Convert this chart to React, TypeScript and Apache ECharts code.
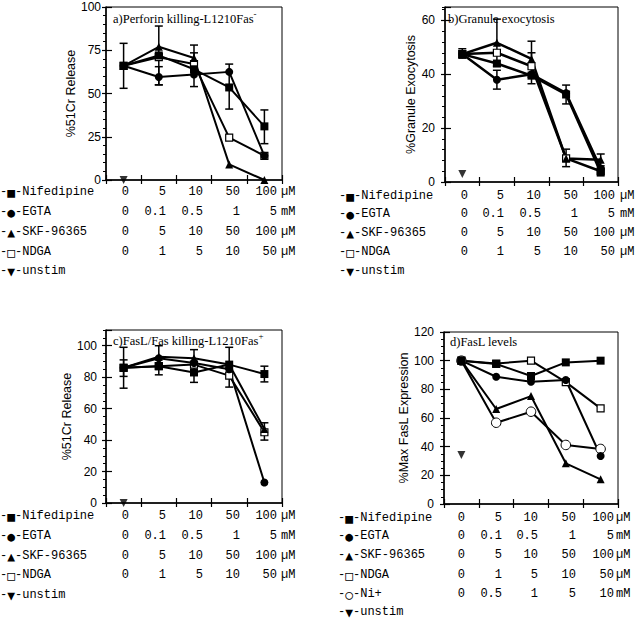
import React, { useEffect, useRef } from "react";
import * as echarts from "echarts";

// ---------- data ----------
const categories = ["0", "5", "10", "50", "100"];

// a) Perforin killing
const aNifedipine = [66, 72, 64, 53.5, 31];
const aEGTA = [66, 59.5, 61, 62.5, 14];
const aSKF = [66, 77, 70.5, 9, 0];
const aNDGA = [66, 71, 67, 24.5, 14];
const aUnstim = 0;
const aErrors = [
  [0, 53, 79], [1, 55, 89], [2, 54, 78], [3, 41, 67], [4, 21, 40.5],
  [1, 55, 65.5], [2, 67, 73.5],
];

// b) Granule exocytosis
const bNifedipine = [47.5, 44, 39.5, 32.5, 3.5];
const bEGTA = [47.5, 38, 40, 33, 5];
const bSKF = [47.5, 51.7, 45.7, 8.7, 8.3];
const bNDGA = [47.5, 48, 43, 8.8, 4];
const bUnstim = 3;
const bErrors = [
  [0, 46, 49.5], [1, 43, 60.5], [1, 34.5, 41.5], [2, 39, 52.3], [2, 36.5, 48],
  [3, 29, 36], [3, 5.7, 12.2], [4, 6, 10.4],
];

// c) FasL/Fas killing
const cNifedipine = [86, 87, 83, 88, 82];
const cEGTA = [86, 92, 89, 85, 13];
const cSKF = [86, 93, 92, 88, 47];
const cNDGA = [86, 87, 88, 81, 45];
const cUnstim = 0;
const cErrors = [
  [0, 73, 99], [0, 80.5, 91], [1, 81.5, 100], [2, 76.7, 97.5], [3, 73.7, 99],
  [4, 77, 87], [4, 40, 51],
];

// d) FasL levels
const dNifedipine = [100, 97.7, 89.3, 98.8, 100];
const dEGTA = [100, 88.8, 85.3, 86.5, 33.5];
const dSKF = [100, 66.3, 75.3, 28.4, 17.2];
const dNDGA = [100, 98, 100, 85, 66.7];
const dNi = [100, 56.7, 64.4, 41.2, 38.4];
const dUnstim = 34.2;

// dose table
const nifedipineDoses = ["0", "5", "10", "50", "100"];
const egtaDoses = ["0", "0.1", "0.5", "1", "5"];
const skfDoses = ["0", "5", "10", "50", "100"];
const ndgaDoses = ["0", "1", "5", "10", "50"];
const niDoses = ["0", "0.5", "1", "5", "10"];

const SANS = "Liberation Sans, Arial, Helvetica, sans-serif";
const SERIF = "Liberation Serif, Times New Roman, serif";
const MONO = "Liberation Mono, Courier New, monospace";

const rowNif = { mark: "■", label: "Nifedipine", doses: nifedipineDoses, unit: "µM" };
const rowEGTA = { mark: "●", label: "EGTA", doses: egtaDoses, unit: "mM" };
const rowSKF = { mark: "▲", label: "SKF-96365", doses: skfDoses, unit: "µM" };
const rowNDGA = { mark: "□", label: "NDGA", doses: ndgaDoses, unit: "µM" };
const rowNi = { mark: "○", label: "Ni+", doses: niDoses, unit: "mM" };
const rowUnstim = { mark: "▼", label: "unstim", doses: [] as string[], unit: "" };

const markerStyles: Record<string, any> = {
  nif: { symbol: "rect", symbolSize: 8, itemStyle: { color: "#000" } },
  egta: { symbol: "circle", symbolSize: 8, itemStyle: { color: "#000" } },
  skf: { symbol: "triangle", symbolSize: 8, itemStyle: { color: "#000" } },
  ndga: { symbol: "rect", symbolSize: 7, itemStyle: { color: "#fff", borderColor: "#000", borderWidth: 1.2 } },
  ni: { symbol: "circle", symbolSize: 9.5, itemStyle: { color: "#fff", borderColor: "#000", borderWidth: 1 } },
};

const panels = [
  {
    grid: { left: 106, top: 7, width: 176, height: 173 },
    max: 100, major: 25, minor: 5, labelMargin: 5, hideMax: false,
    name: "%51Cr Release", nameGap: 25,
    series: [
      { kind: "ndga", data: aNDGA }, { kind: "skf", data: aSKF },
      { kind: "egta", data: aEGTA }, { kind: "nif", data: aNifedipine },
    ],
    unstim: aUnstim, errors: aErrors, lineWidth: 2,
    title: { x: 113, y: 17, text: "a)Perforin killing-L1210Fas", sup: "-" },
    table: { labelX: 0, cols: [129, 166, 203, 240, 277], unitX: 281, rowsY: [192, 212, 232, 252, 271], rows: [rowNif, rowEGTA, rowSKF, rowNDGA, rowUnstim] },
  },
  {
    grid: { left: 445, top: 7, width: 173, height: 175 },
    max: 65, major: 20, minor: 4, labelMargin: 10, hideMax: true,
    name: "%Granule Exocytosis", nameGap: 21,
    series: [
      { kind: "ndga", data: bNDGA }, { kind: "skf", data: bSKF },
      { kind: "egta", data: bEGTA }, { kind: "nif", data: bNifedipine },
    ],
    unstim: bUnstim, errors: bErrors, lineWidth: 2.5,
    title: { x: 448, y: 17, text: "b)Granule exocytosis", sup: "" },
    table: { labelX: 339, cols: [468, 504, 541, 578, 615], unitX: 620, rowsY: [196, 214, 233, 252, 271], rows: [rowNif, rowEGTA, rowSKF, rowNDGA, rowUnstim] },
  },
  {
    grid: { left: 106, top: 330, width: 176, height: 173 },
    max: 110, major: 20, minor: 5, labelMargin: 9, hideMax: true,
    name: "%51Cr Release", nameGap: 25,
    series: [
      { kind: "ndga", data: cNDGA }, { kind: "skf", data: cSKF },
      { kind: "egta", data: cEGTA }, { kind: "nif", data: cNifedipine },
    ],
    unstim: cUnstim, errors: cErrors, lineWidth: 2,
    title: { x: 113, y: 339, text: "c)FasL/Fas killing-L1210Fas", sup: "+" },
    table: { labelX: 0, cols: [129, 166, 203, 240, 277], unitX: 281, rowsY: [516, 536, 556, 575, 595], rows: [rowNif, rowEGTA, rowSKF, rowNDGA, rowUnstim] },
  },
  {
    grid: { left: 444, top: 332, width: 174, height: 172 },
    max: 120, major: 20, minor: 5, labelMargin: 10, hideMax: false,
    name: "%Max FasL Expression", nameGap: 26,
    series: [
      { kind: "ni", data: dNi }, { kind: "ndga", data: dNDGA }, { kind: "skf", data: dSKF },
      { kind: "egta", data: dEGTA }, { kind: "nif", data: dNifedipine },
    ],
    unstim: dUnstim, errors: [] as number[][], lineWidth: 2,
    title: { x: 450, y: 340, text: "d)FasL levels", sup: "" },
    table: { labelX: 338, cols: [465, 502, 538, 576, 614], unitX: 616, rowsY: [518, 536, 555, 575, 594, 612], rows: [rowNif, rowEGTA, rowSKF, rowNDGA, rowNi, rowUnstim] },
  },
];

function buildOption() {
  const grid: any[] = [];
  const xAxis: any[] = [];
  const yAxis: any[] = [];
  const series: any[] = [];
  const graphic: any[] = [];

  panels.forEach((p, i) => {
    grid.push({
      left: p.grid.left, top: p.grid.top, width: p.grid.width, height: p.grid.height,
      show: true, borderColor: "#000", borderWidth: 1, containLabel: false,
    });
    const xOut = xAxis.length;
    xAxis.push({
      type: "category", gridIndex: i, data: categories, position: "bottom",
      boundaryGap: true,
      axisLine: { show: true, lineStyle: { color: "#000", width: 1.5 } },
      axisTick: { show: true, length: 4, inside: false, lineStyle: { color: "#000", width: 1.2 } },
      axisLabel: { show: false },
      splitLine: { show: false },
    });
    xAxis.push({
      type: "category", gridIndex: i, data: categories, position: "bottom",
      boundaryGap: true,
      axisLine: { show: false },
      axisTick: { show: true, length: 5, inside: true, lineStyle: { color: "#000", width: 1.2 } },
      axisLabel: { show: false },
      splitLine: { show: false },
    });
    const yMain = yAxis.length;
    yAxis.push({
      type: "value", gridIndex: i, min: 0, max: p.max, interval: p.major, position: "left",
      name: p.name, nameLocation: "middle", nameGap: p.nameGap,
      nameTextStyle: { fontFamily: SANS, fontSize: 12.5, color: "#000" },
      axisLine: { show: true, lineStyle: { color: "#000", width: 1.5 } },
      axisTick: { show: true, length: 4, inside: false, lineStyle: { color: "#000", width: 1.2 } },
      axisLabel: { show: true, margin: p.labelMargin, fontFamily: SANS, fontSize: 12, lineHeight: 11, color: "#000", showMaxLabel: !p.hideMax },
      splitLine: { show: false },
    });
    yAxis.push({
      type: "value", gridIndex: i, min: 0, max: p.max, interval: p.major, position: "left",
      axisLine: { show: false },
      axisTick: { show: true, length: 6, inside: true, lineStyle: { color: "#000", width: 1.2 } },
      axisLabel: { show: false },
      splitLine: { show: false },
    });
    yAxis.push({
      type: "value", gridIndex: i, min: 0, max: p.max, interval: p.minor, position: "left",
      axisLine: { show: false },
      axisTick: { show: true, length: 3, inside: false, lineStyle: { color: "#000", width: 1 } },
      axisLabel: { show: false },
      splitLine: { show: false },
    });

    // error bars
    if (p.errors.length) {
      series.push({
        type: "custom", xAxisIndex: xOut, yAxisIndex: yMain, data: p.errors, z: 1,
        encode: { x: 0, y: [1, 2] },
        renderItem: (params: any, api: any) => {
          const x = api.value(0);
          const lo = api.coord([x, api.value(1)]);
          const hi = api.coord([x, api.value(2)]);
          const w = 4;
          const st = { stroke: "#000", lineWidth: 1.5 };
          return {
            type: "group",
            children: [
              { type: "line", shape: { x1: lo[0], y1: lo[1], x2: hi[0], y2: hi[1] }, style: st },
              { type: "line", shape: { x1: lo[0] - w, y1: lo[1], x2: lo[0] + w, y2: lo[1] }, style: st },
              { type: "line", shape: { x1: hi[0] - w, y1: hi[1], x2: hi[0] + w, y2: hi[1] }, style: st },
            ],
          };
        },
      });
    }

    p.series.forEach((s) => {
      const m = markerStyles[s.kind];
      series.push({
        type: "line", xAxisIndex: xOut, yAxisIndex: yMain, data: s.data, z: 3,
        symbol: m.symbol, symbolSize: m.symbolSize, showSymbol: true,
        itemStyle: m.itemStyle,
        lineStyle: { color: "#000", width: p.lineWidth },
        emphasis: { disabled: true },
      });
    });
    series.push({
      type: "scatter", xAxisIndex: xOut, yAxisIndex: yMain, data: [[0, p.unstim]], z: 4,
      symbol: "triangle", symbolRotate: 180, symbolSize: 8, itemStyle: { color: "#000" },
    });

    // title
    graphic.push({
      type: "text", x: p.title.x, y: p.title.y, z: 10,
      style: {
        text: p.title.sup ? `{m|${p.title.text}}{s|${p.title.sup}}` : `{m|${p.title.text}}`,
        verticalAlign: "middle", align: "left",
        rich: {
          m: { fontFamily: SERIF, fontSize: 12.5, fill: "#000", lineHeight: 16, verticalAlign: "bottom" },
          s: { fontFamily: SERIF, fontSize: 9, fill: "#000", lineHeight: 16, verticalAlign: "top" },
        },
      },
    });

    // dose table
    const t = p.table;
    t.rows.forEach((r, ri) => {
      const y = t.rowsY[ri];
      graphic.push({
        type: "text", x: t.labelX, y,
        style: {
          text: `{t|-}{k|${r.mark}}{t|-${r.label}}`,
          align: "left", verticalAlign: "middle",
          rich: {
            t: { fontFamily: MONO, fontSize: 12, lineHeight: 11, fill: "#000" },
            k: { fontFamily: "DejaVu Sans Mono", fontSize: 13, lineHeight: 11, fill: "#000" },
          },
        },
      });
      r.doses.forEach((d, di) => {
        graphic.push({
          type: "text", x: t.cols[di], y,
          style: { text: d, fontFamily: MONO, fontSize: 12, lineHeight: 11, fill: "#000", align: "right", verticalAlign: "middle" },
        });
      });
      if (r.unit) {
        graphic.push({
          type: "text", x: t.unitX, y,
          style: { text: r.unit, fontFamily: MONO, fontSize: 12, lineHeight: 11, fill: "#000", align: "left", verticalAlign: "middle" },
        });
      }
    });
  });

  return {
    animation: false,
    backgroundColor: "#fff",
    grid, xAxis, yAxis, series, graphic,
  };
}

export default function App() {
  const ref = useRef<HTMLDivElement>(null);
  useEffect(() => {
    if (!ref.current) return;
    const chart = echarts.init(ref.current, undefined, { renderer: "svg" });
    chart.setOption(buildOption() as any);
    return () => chart.dispose();
  }, []);
  return (
    <div
      ref={ref}
      style={{ position: "absolute", left: 0, top: 0, width: 640, height: 621, background: "#fff" }}
    />
  );
}
